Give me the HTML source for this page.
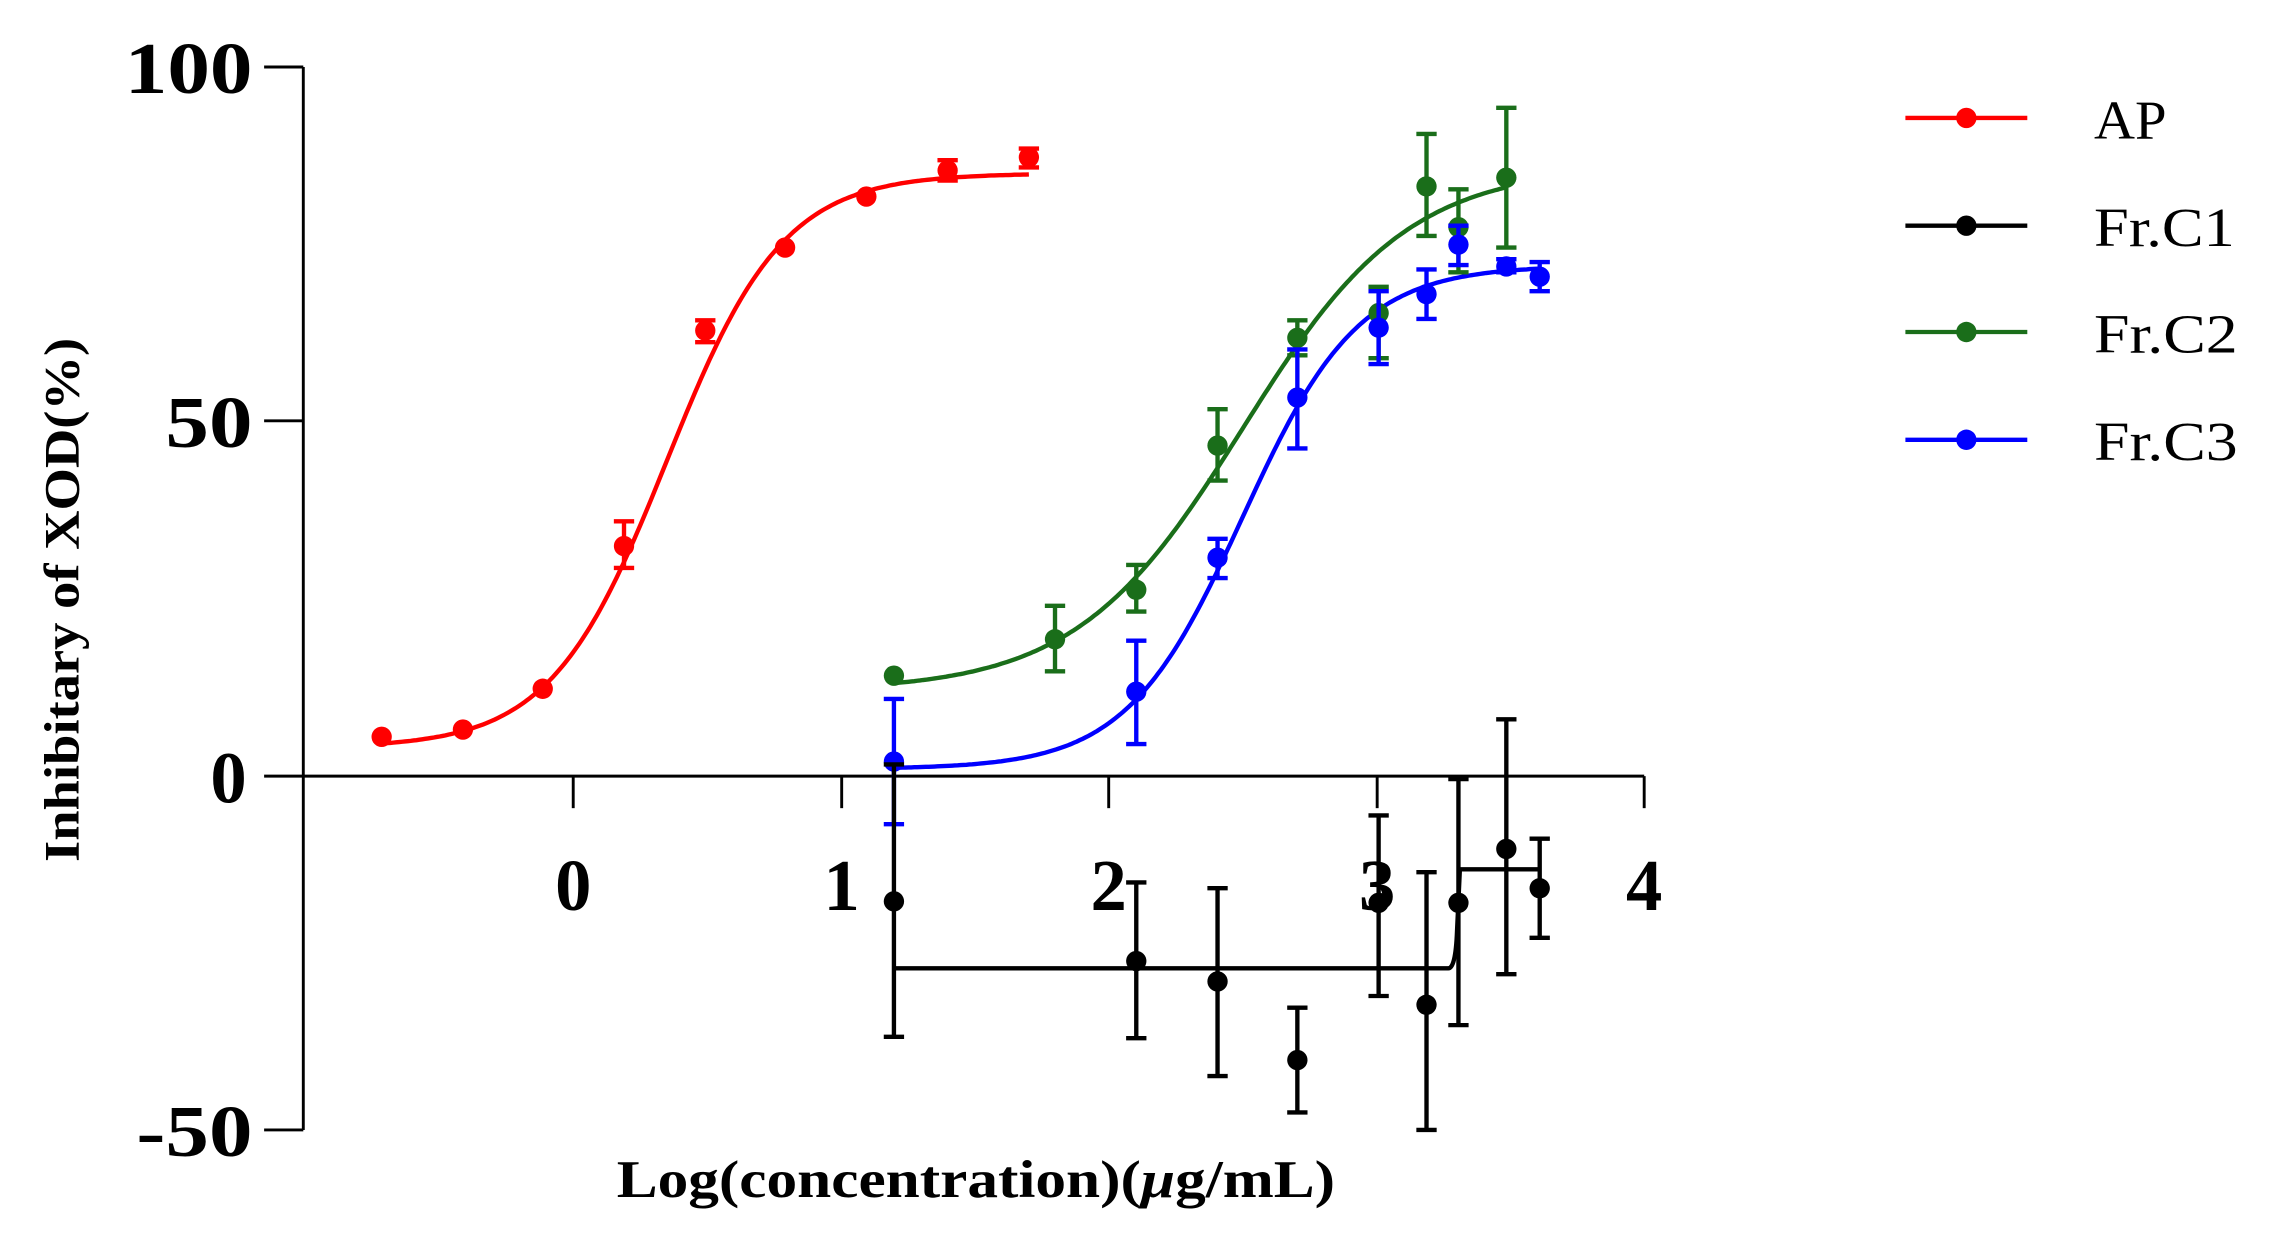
<!DOCTYPE html>
<html><head><meta charset="utf-8"><style>
html,body{margin:0;padding:0;background:#fff;}
svg{display:block;}
text{font-family:"Liberation Serif",serif;}
</style></head><body>
<svg id="s" width="2274" height="1245" viewBox="0 0 1567 855" preserveAspectRatio="none" xmlns="http://www.w3.org/2000/svg">
<rect width="1567" height="855" fill="#fff"/>
<g stroke="#000" stroke-width="2" fill="none">
<line x1="209" y1="46" x2="209" y2="776"/>
<line x1="182" y1="46" x2="209" y2="46"/>
<line x1="182" y1="289" x2="209" y2="289"/>
<line x1="182" y1="533" x2="209" y2="533"/>
<line x1="182" y1="776" x2="209" y2="776"/>
<line x1="209" y1="533" x2="1133" y2="533"/>
<line x1="395" y1="533" x2="395" y2="555"/>
<line x1="580" y1="533" x2="580" y2="555"/>
<line x1="764" y1="533" x2="764" y2="555"/>
<line x1="949" y1="533" x2="949" y2="555"/>
<line x1="1133" y1="533" x2="1133" y2="555"/>
</g>
<g font-weight="bold" font-size="50" text-anchor="end">
<text x="174" y="64" textLength="88" lengthAdjust="spacingAndGlyphs">100</text>
<text x="174" y="307" textLength="60" lengthAdjust="spacingAndGlyphs">50</text>
<text x="170" y="551">0</text>
<text x="174" y="794" textLength="80" lengthAdjust="spacingAndGlyphs">-50</text>
</g>
<g font-weight="bold" font-size="50" text-anchor="middle">
<text x="395" y="625">0</text>
<text x="580" y="625">1</text>
<text x="764" y="625">2</text>
<text x="949" y="625">3</text>
<text x="1133" y="625">4</text>
</g>
<text x="425" y="822" font-weight="bold" font-size="36" textLength="495" lengthAdjust="spacingAndGlyphs">Log(concentration)(<tspan font-style="italic">μ</tspan>g/mL)</text>
<text transform="translate(54,412) rotate(-90)" font-weight="bold" font-size="34" text-anchor="middle" textLength="360" lengthAdjust="spacingAndGlyphs">Inhibitary of XOD(%)</text>
<g font-size="38">
<text x="1443" y="95" textLength="50" lengthAdjust="spacingAndGlyphs">AP</text>
<text x="1443" y="169" textLength="97" lengthAdjust="spacingAndGlyphs">Fr.C1</text>
<text x="1443" y="242" textLength="99" lengthAdjust="spacingAndGlyphs">Fr.C2</text>
<text x="1443" y="316" textLength="99" lengthAdjust="spacingAndGlyphs">Fr.C3</text>
</g>
<g stroke-width="3">
<line x1="1313" y1="81" x2="1397" y2="81" stroke="#f00"/>
<line x1="1313" y1="155" x2="1397" y2="155" stroke="#000"/>
<line x1="1313" y1="228" x2="1397" y2="228" stroke="#1a6e1a"/>
<line x1="1313" y1="302" x2="1397" y2="302" stroke="#0000ff"/>
</g>
<circle cx="1355" cy="81" r="7" fill="#f00"/>
<circle cx="1355" cy="155" r="7" fill="#000"/>
<circle cx="1355" cy="228" r="7" fill="#1a6e1a"/>
<circle cx="1355" cy="302" r="7" fill="#0000ff"/>
<g id="plot"></g>
</svg>
<script>
var NS="http://www.w3.org/2000/svg",g=document.getElementById('plot');
function X(x){return 395+184.5*x;}function Y(y){return 533-4.87*y;}
function el(t,a){var e=document.createElementNS(NS,t);for(var k in a)e.setAttribute(k,a[k]);g.appendChild(e);return e;}
function curve(b,t,ec,h,p0,p1,col){var d="";for(var px=p0;px<=p1;px+=2){var x=(px-395)/184.5;var y=b+(t-b)/(1+Math.pow(10,(ec-x)*h));d+=(d?"L":"M")+px+","+Y(y).toFixed(1);}el('path',{d:d,stroke:col,'stroke-width':3,fill:'none'});}
function series(pts,col){pts.forEach(function(p){if(p[2]!=null){el('line',{x1:p[0],y1:p[2],x2:p[0],y2:p[3],stroke:col,'stroke-width':3});el('line',{x1:p[0]-7,y1:p[2],x2:p[0]+7,y2:p[2],stroke:col,'stroke-width':3});el('line',{x1:p[0]-7,y1:p[3],x2:p[0]+7,y2:p[3],stroke:col,'stroke-width':3});}el('circle',{cx:p[0],cy:p[1],r:7,fill:col});});}
var R="#f00",G="#1a6e1a",B="#0000ff",K="#000";
curve(4,85,0.35,2,263,709,R);
curve(12,86,2.5,1.4,616,1038,G);
curve(1,72,2.5,2,616,1061,B);
el('path',{d:"M616,665 L998,665 Q1003,665 1004,640 L1006,597 L1061,597",stroke:K,'stroke-width':3,fill:'none'});
series([[263,506],[319,501],[374,473],[430,375,358,390],[486,227,220,235],[541,170],[597,135],[653,117,110,124],[709,108,102,115]],R);
series([[616,464],[727,439,416,461],[783,405,388,420],[839,306,281,330],[894,232,220,244],[950,215,197,246],[983,128,92,162],[1005,156,130,187],[1038,122,74,170]],G);
series([[616,523,480,566],[783,475,440,511],[839,383,370,397],[894,273,240,308],[950,225,200,250],[983,202,185,219],[1005,168,155,182],[1038,183,178,187],[1061,190,180,200]],B);
series([[616,619,525,712],[783,660,606,713],[839,674,610,739],[894,728,692,764],[950,620,560,684],[983,690,599,776],[1005,620,535,704],[1038,583,494,669],[1061,610,576,644]],K);
</script>
</body></html>
